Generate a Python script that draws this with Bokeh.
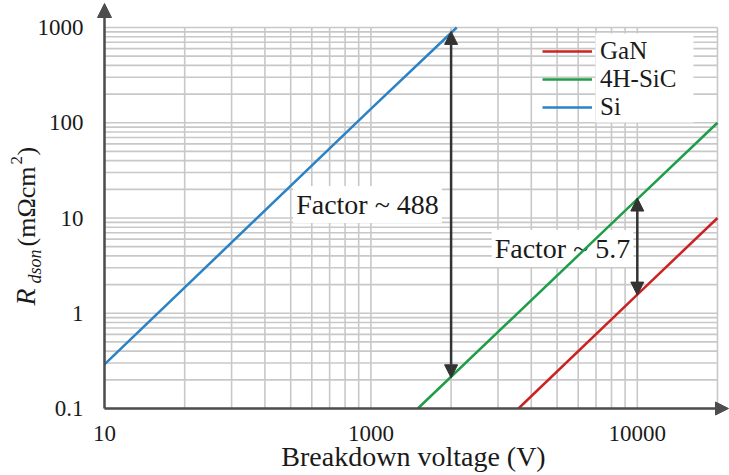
import math
from bokeh.plotting import figure
from bokeh.models import (Range1d, FixedTicker, Arrow, NormalHead, Label, Legend,
                          LegendItem, BoxAnnotation, ColumnDataSource)
from bokeh.core.properties import value
from bokeh.embed import file_html
from bokeh.resources import INLINE

# ---------------- data ----------------
si_v = [100, 1000, 2100]
si_r = [0.29, 140, 1000]
sic_v = [1500, 10000, 20000]
sic_r = [0.1, 15.8, 100]
gan_v = [3580, 10000, 20000]
gan_r = [0.1, 1.57, 10]

factor_v = [2000, 10000]
factor_low = [0.21, 1.55]
factor_high = [910, 16.2]
factor_text = ["Factor ~ 488", "Factor ~ 5.7"]

series_names = ["GaN", "4H-SiC", "Si"]

x_major = [100, 1000, 10000]
x_major_labels = ["10", "1000", "10000"]
x_minor = [200, 300, 400, 500, 600, 700, 800, 900,
           2000, 3000, 4000, 5000, 6000, 7000, 8000, 9000, 20000]
y_major = [0.1, 1, 10, 100, 1000]
y_major_labels = ["0.1", "1", "10", "100", "1000"]
y_minor = [0.2, 0.3, 0.4, 0.5, 0.6, 0.7, 0.8, 0.9,
           2, 3, 4, 5, 6, 7, 8, 9,
           20, 30, 40, 50, 60, 70, 80, 90,
           200, 300, 400, 500, 600, 700, 800, 900]

X_LO, X_HI = 100, 20000      # plotted voltage span
Y_LO, Y_HI = 0.1, 1000       # plotted resistance span

# ---------------- layout / styling ----------------
W, H = 729, 475
X0_PX, X1_PX = 104, 717      # canvas pixels of X_LO, X_HI
Y0_PX, Y1_PX = 408, 27       # canvas pixels of Y_LO, Y_HI

def x_at(px):
    lo, hi = math.log10(X_LO), math.log10(X_HI)
    return 10 ** (lo + (px - X0_PX) * (hi - lo) / (X1_PX - X0_PX))

def y_at(py):
    lo, hi = math.log10(Y_LO), math.log10(Y_HI)
    return 10 ** (lo + (py - Y0_PX) * (hi - lo) / (Y1_PX - Y0_PX))

SERIF = "Liberation Serif"
TXT = "#1a1a1a"
AX = "#4d4d4d"
ARR = "#333333"
GRID = "#c8c8c8"
colors = {"GaN": "#cc2222", "4H-SiC": "#1e9e48", "Si": "#2b83c6"}

p = figure(width=W, height=H, x_axis_type="log", y_axis_type="log",
           x_range=Range1d(x_at(0), x_at(W)), y_range=Range1d(y_at(H), y_at(0)),
           output_backend="svg", toolbar_location=None,
           min_border_left=0, min_border_right=0, min_border_top=0, min_border_bottom=0)
p.outline_line_color = None
p.background_fill_color = "white"
p.border_fill_color = "white"
p.grid.visible = False

# axes placed on the data corner, tick labels only
xa, ya = p.xaxis[0], p.yaxis[0]
xa.fixed_location = Y_LO
ya.fixed_location = X_LO
xa.bounds = (X_LO, X_HI)
ya.bounds = (Y_LO, Y_HI)
xa.ticker = FixedTicker(ticks=x_major, minor_ticks=[])
ya.ticker = FixedTicker(ticks=y_major, minor_ticks=[])
xa.major_label_overrides = dict(zip(x_major, x_major_labels))
ya.major_label_overrides = dict(zip(y_major, y_major_labels))
for ax in (xa, ya):
    ax.axis_line_color = None
    ax.major_tick_line_color = None
    ax.minor_tick_line_color = None
    ax.major_label_text_font = SERIF
    ax.major_label_text_font_size = "23px"
    ax.major_label_text_color = TXT
xa.major_label_standoff = 11
ya.major_label_standoff = 15

# grid (major + minor) drawn through the scales
vx = x_major + x_minor
hy = y_major + y_minor
p.segment(x0=vx, y0=[Y_LO] * len(vx), x1=vx, y1=[Y_HI] * len(vx),
          line_color=GRID, line_width=1.6)
p.segment(x0=[X_LO] * len(hy), y0=hy, x1=[X_HI] * len(hy), y1=hy,
          line_color=GRID, line_width=1.6)

# factor labels (glyphs, so the curves draw over their white boxes)
label_x = [x_at(367), x_at(562)]
label_y = [y_at(204), y_at(248)]
tsrc = ColumnDataSource(dict(x=label_x, y=label_y, t=factor_text))
p.text(x="x", y="y", text="t", source=tsrc, text_font=value(SERIF),
       text_font_size="28px", text_align="center", text_baseline="middle",
       text_color=TXT, background_fill_color="white", padding=3)

# series lines
r_gan = p.line(gan_v, gan_r, line_color=colors["GaN"], line_width=2.5)
r_sic = p.line(sic_v, sic_r, line_color=colors["4H-SiC"], line_width=2.5)
r_si = p.line(si_v, si_r, line_color=colors["Si"], line_width=2.5)

# axis lines with arrow heads
p.add_layout(Arrow(end=NormalHead(size=14, fill_color=AX, line_color=AX),
                   x_start=X_LO, y_start=Y_LO, x_end=X_LO, y_end=y_at(3),
                   line_color=AX, line_width=2.5))
p.add_layout(Arrow(end=NormalHead(size=13, fill_color=AX, line_color=AX),
                   x_start=X_LO, y_start=Y_LO, x_end=x_at(728), y_end=Y_LO,
                   line_color=AX, line_width=2.5))

# factor arrows
fsrc = ColumnDataSource(dict(x=factor_v, lo=factor_low, hi=factor_high))
p.add_layout(Arrow(start=NormalHead(size=13, fill_color=ARR, line_color=ARR),
                   end=NormalHead(size=13, fill_color=ARR, line_color=ARR),
                   x_start="x", y_start="lo", x_end="x", y_end="hi", source=fsrc,
                   line_color=ARR, line_width=2.5))

# legend with white box behind the labels
p.add_layout(BoxAnnotation(left=595, right=693, top=H - 33, bottom=H - 122,
                           left_units="screen", right_units="screen",
                           top_units="screen", bottom_units="screen",
                           fill_color="white", fill_alpha=1.0, line_color=None))
legend = Legend(items=[LegendItem(label=series_names[0], renderers=[r_gan]),
                       LegendItem(label=series_names[1], renderers=[r_sic]),
                       LegendItem(label=series_names[2], renderers=[r_si])],
                location=(542, H - 37 - 84), margin=0, padding=0, spacing=0,
                glyph_width=50, glyph_height=28, label_height=28,
                label_standoff=8, label_text_font=SERIF,
                label_text_font_size="25px", label_text_color=TXT,
                background_fill_alpha=0, border_line_alpha=0)
p.add_layout(legend, "center")

# x title (anchor = vertical middle of the text)
p.add_layout(Label(x=413, y=H - 456, x_units="screen", y_units="screen",
                   text="Breakdown voltage (V)", text_font=SERIF,
                   text_font_size="28px", text_color=TXT,
                   text_align="center", text_baseline="middle"))

# y title pieces (rotated); px = horizontal middle of each piece
def ylab(text, px, py, size, italic=False):
    p.add_layout(Label(x=px, y=H - py, x_units="screen", y_units="screen",
                       text=text, angle=math.pi / 2, text_font=SERIF,
                       text_font_size=size, text_color=TXT,
                       text_font_style="italic" if italic else "normal",
                       text_align="left", text_baseline="middle"))

ylab("R", 25, 305, "28px", italic=True)
ylab("dson", 34, 283, "18px", italic=True)
ylab("(m\u03a9cm", 26, 246, "26px")
ylab("2", 16, 164, "17px")
ylab(")", 26, 155, "26px")

open("out.html", "w").write(file_html(p, INLINE))
